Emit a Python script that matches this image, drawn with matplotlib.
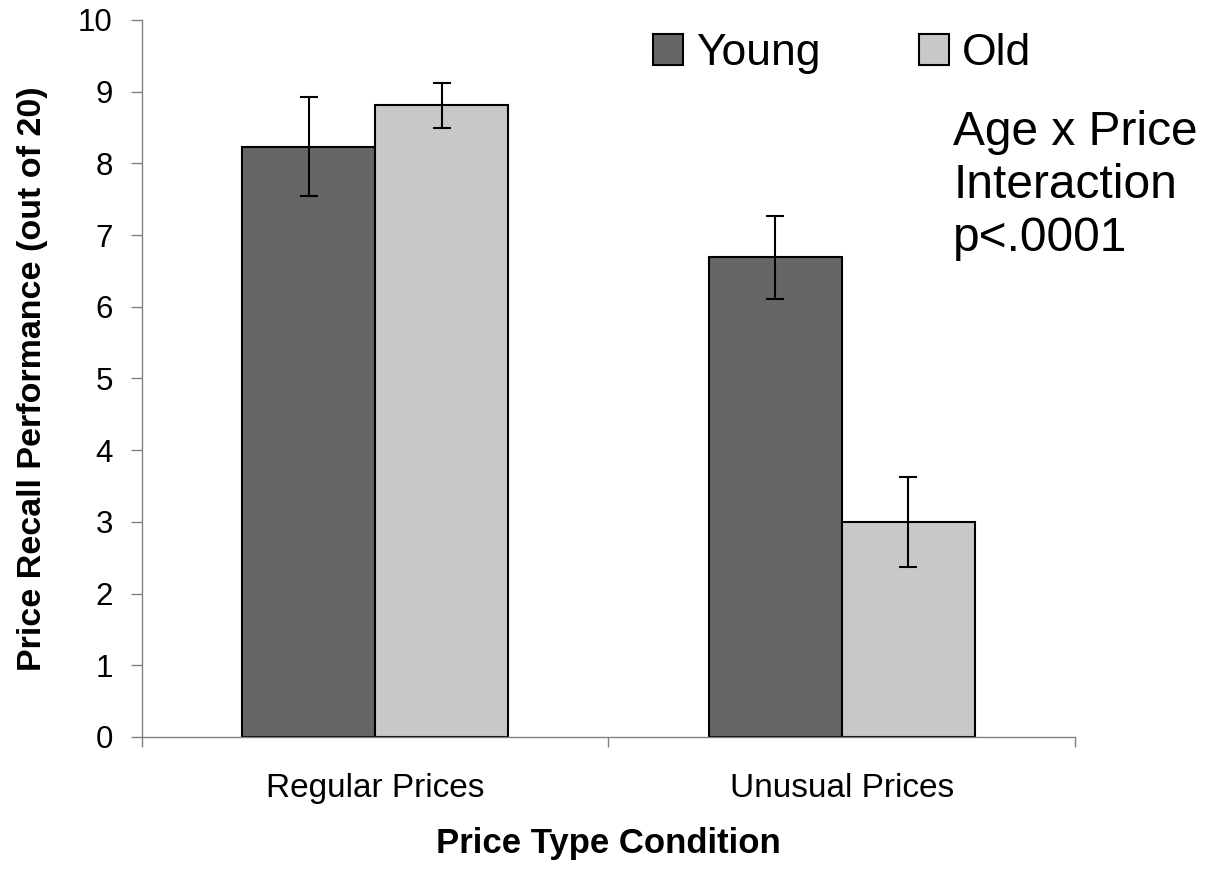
import numpy as np
import matplotlib
matplotlib.use("Agg")
import matplotlib.pyplot as plt
from matplotlib.patches import Patch

# ---------- Data ----------
conditions = ["Regular Prices", "Unusual Prices"]
young_means = [8.23, 6.69]
young_err = [0.69, 0.58]
old_means = [8.81, 3.00]
old_err = [0.31, 0.63]

plt.rcParams['font.family'] = ['Liberation Sans', 'DejaVu Sans']

fig = plt.figure(figsize=(12.05, 8.69), dpi=100)
ax = fig.add_axes([0.1178, 0.1519, 0.7743, 0.8251])

x = np.arange(len(conditions)) + 0.5
w = 0.285
err_kw = dict(ecolor='black', elinewidth=1.5, capsize=6.5, capthick=1.5)
ax.bar(x - w/2, young_means, w, yerr=young_err, color='#666666',
       edgecolor='black', linewidth=1.5, error_kw=err_kw)
ax.bar(x + w/2, old_means, w, yerr=old_err, color='#c8c8c8',
       edgecolor='black', linewidth=1.5, error_kw=err_kw)

ax.set_xlim(0, 2)
ax.set_ylim(0, 10)
ax.set_yticks(range(0, 11))
ax.set_xticks([0, 1, 2])
ax.set_xticklabels([])
ax.set_xticks(x, minor=True)
ax.set_xticklabels(conditions, minor=True)
ax.tick_params(axis='x', which='major', length=7, color='#808080', width=1)
ax.tick_params(axis='x', which='minor', length=0, labelsize=24, pad=26)
ax.tick_params(axis='y', length=8, color='#808080', width=1, labelsize=22.5, pad=13)

for s in ['top', 'right']:
    ax.spines[s].set_visible(False)
for s in ['left', 'bottom']:
    ax.spines[s].set_color('#808080')
    ax.spines[s].set_linewidth(1)

# axis titles
ax.set_ylabel("Price Recall Performance (out of 20)", fontsize=24.5,
              fontweight='bold', va='center')
ax.yaxis.set_label_coords((33 - 142) / 933, 0.5)
ax.set_xlabel("Price Type Condition", fontsize=25, fontweight='bold', va='center')
ax.xaxis.set_label_coords(0.5, (737 - 843) / 717)

# legend
handles = [Patch(facecolor='#666666', edgecolor='black', linewidth=1.5, label='Young'),
           Patch(facecolor='#c8c8c8', edgecolor='black', linewidth=1.5, label='Old')]
fig.legend(handles=handles, ncol=2, frameon=False, fontsize=32,
           loc='upper left', bbox_to_anchor=(0.516, 0.998),
           handlelength=0.68, handleheight=0.68, handletextpad=0.3,
           columnspacing=2.2, borderpad=0.2)

fig.text(0.791, 0.873, "Age x Price\nInteraction\np<.0001", fontsize=34.5,
         ha='left', va='top', linespacing=1.22)

fig.savefig("out.png", dpi=100)
